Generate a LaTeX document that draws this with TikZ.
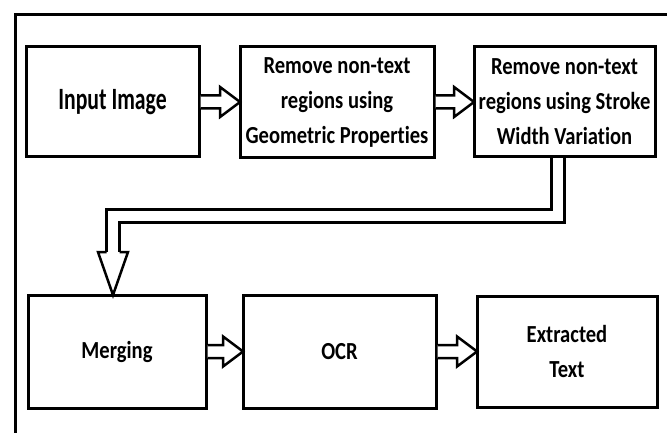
\documentclass[tikz,border=0pt]{standalone}
\usepackage{fontspec}
\newfontfamily\boxfont[FakeStretch=0.84, Ligatures=NoCommon]{Carlito}
\newfontfamily\bigboxfont[FakeStretch=0.7, Ligatures=NoCommon]{Carlito}
\usetikzlibrary{positioning, calc}

\newcommand\blockarrow[2]{%
  \draw[hollow] ($(#1.east|-#2.west)+(1.5,-6.5)$) -- ($(#2.west)+(-20,-6.5)$)
    -- ($(#2.west)+(-20,-15)$) -- (#2.west) -- ($(#2.west)+(-20,15)$)
    -- ($(#2.west)+(-20,6.5)$) -- ($(#1.east|-#2.west)+(1.5,6.5)$);}

\begin{document}
\begin{tikzpicture}[x=1pt, y=-1pt,
  stagebox/.style={draw, line width=3pt, inner sep=0pt, outer sep=0pt, align=center,
    font=\boxfont\bfseries\fontsize{24.5}{35}\selectfont},
  hollow/.style={draw, fill=white, line width=2.5pt, miter limit=10},
  twin/.style={double, double distance=10pt, line width=3pt},
  frame/.style={line width=3pt}]
  \useasboundingbox (0,0) rectangle (667,433);
  \draw[frame] (15,433) -- (15,15) -- (667,15);

  \node[stagebox, minimum width=173pt, minimum height=110pt,
    font=\bigboxfont\bfseries\fontsize{31}{36}\selectfont] (in) at (112.5,102) {Input Image};
  \node[stagebox, minimum width=194pt, minimum height=111pt] (geo) [right=41pt of in]
    {Remove non-text\\regions using\\Geometric Properties};
  \node[stagebox, minimum width=181pt, minimum height=110pt] (swv) [right=40pt of geo]
    {Remove non-text\\regions using Stroke\\Width Variation};
  \node[stagebox, minimum width=178pt, minimum height=113pt] (merge) at (117,351.5) {Merging};
  \node[stagebox, minimum width=193pt, minimum height=113pt] (ocr) [right=37pt of merge] {OCR};
  \node[stagebox, minimum width=180pt, minimum height=111pt] (out) [right=41pt of ocr] {Extracted\\Text};

  \blockarrow{in}{geo}
  \blockarrow{geo}{swv}
  \blockarrow{merge}{ocr}
  \blockarrow{ocr}{out}

  \draw[twin] ($(swv.south)+(-7,1.5)$) |- ($(merge.north)+(-4,-79)$) -- ($(merge.north)+(-4,-43)$);
  \draw[hollow] ($(merge.north)+(-10.5,-43)$) -- ($(merge.north)+(-19,-43)$) -- ($(merge.north)+(-4,0)$)
    -- ($(merge.north)+(11,-43)$) -- ($(merge.north)+(2.5,-43)$);
\end{tikzpicture}
\end{document}
